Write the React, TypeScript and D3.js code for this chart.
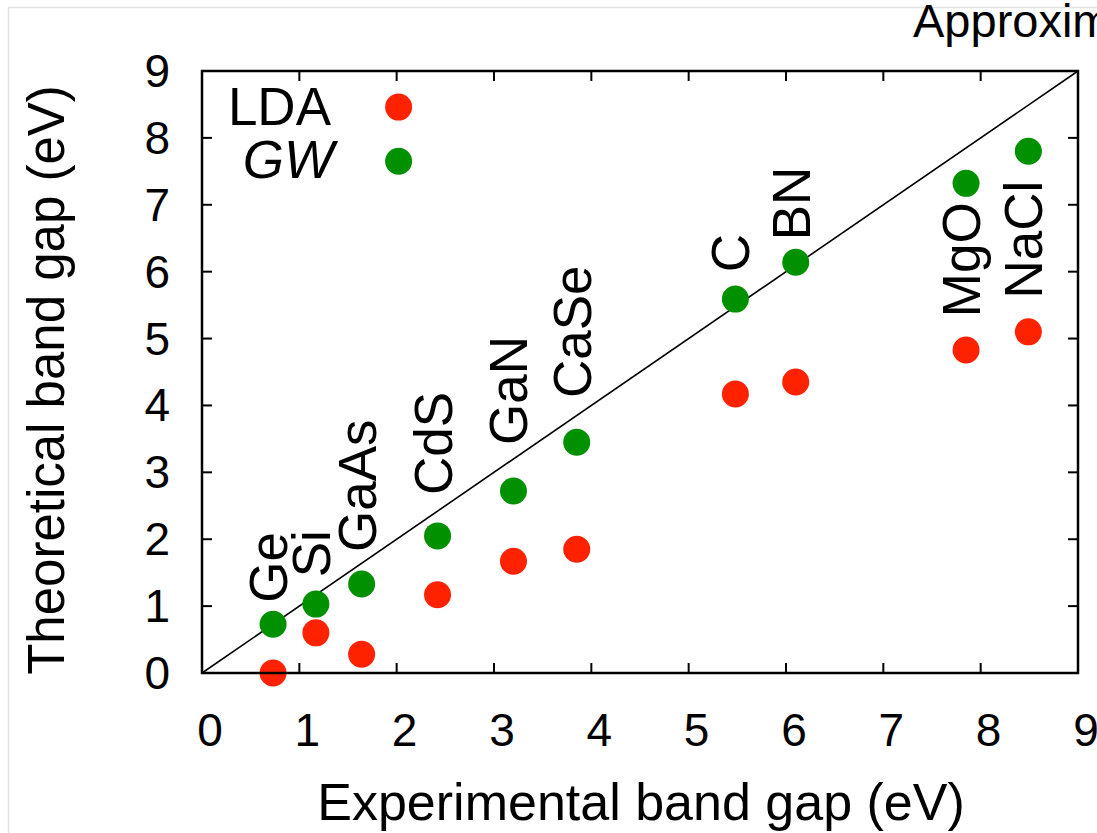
import React from "react";
import * as d3 from "d3";

const materials = ["Ge", "Si", "GaAs", "CdS", "GaN", "CaSe", "C", "BN", "MgO", "NaCl"];
const experimental = [0.73, 1.17, 1.64, 2.42, 3.2, 3.85, 5.48, 6.1, 7.85, 8.49];
const ldaGap = [0.0, 0.6, 0.28, 1.17, 1.67, 1.85, 4.17, 4.35, 4.83, 5.1];
const gwGap = [0.73, 1.03, 1.33, 2.05, 2.72, 3.45, 5.59, 6.14, 7.32, 7.8];
// label anchor (start of rotated text) in data y-units
const labelY = [1.05, 1.43, 1.81, 2.66, 3.41, 4.11, 5.99, 6.47, 5.32, 5.6];
const ticks = [0, 1, 2, 3, 4, 5, 6, 7, 8, 9];

const W = 1097, H = 833;
const font = "'Liberation Sans', Arial, Helvetica, sans-serif";
const RED = "#ff2200";
const GREEN = "#009000";

export default function App() {
  const x = d3.scaleLinear().domain([0, 9]).range([202, 1078]);
  const y = d3.scaleLinear().domain([0, 9]).range([673, 71]);
  const tl = 10;
  return (
    <div style={{ position: "fixed", left: 0, top: 0 }}>
      <svg width={W} height={H} style={{ display: "block", background: "#fff" }}>
        <rect x={8.5} y={7.5} width={W + 20} height={H + 20} fill="none" stroke="#e2e2e2" strokeWidth={1.5} />
        <text x={913} y={37} fontFamily={font} fontSize={47} fill="#000">
          Approximation
        </text>
        {/* ticks */}
        {ticks.map((t) => (
          <g key={"t" + t} stroke="#000" strokeWidth={2}>
            <line x1={x(t)} x2={x(t)} y1={y(0)} y2={y(0) - tl} />
            <line x1={x(t)} x2={x(t)} y1={y(9)} y2={y(9) + tl} />
            <line x1={x(0)} x2={x(0) + tl} y1={y(t)} y2={y(t)} />
            <line x1={x(9)} x2={x(9) - tl} y1={y(t)} y2={y(t)} />
          </g>
        ))}
        {ticks.map((t) => (
          <text key={"xl" + t} x={x(t) + 8} y={746} textAnchor="middle" fontFamily={font} fontSize={46} fill="#000">
            {t}
          </text>
        ))}
        {ticks.map((t) => (
          <text key={"yl" + t} x={170} y={y(t) + 16} textAnchor="end" fontFamily={font} fontSize={46} fill="#000">
            {t}
          </text>
        ))}
        {/* diagonal */}
        <line x1={x(0)} y1={y(0)} x2={x(9)} y2={y(9)} stroke="#000" strokeWidth={1.6} />
        {/* points */}
        {materials.map((m, i) => (
          <g key={m}>
            <circle cx={x(experimental[i])} cy={y(ldaGap[i])} r={13.5} fill={RED} />
            <circle cx={x(experimental[i])} cy={y(gwGap[i])} r={13.5} fill={GREEN} />
          </g>
        ))}
        {/* labels */}
        {materials.map((m, i) => {
          const lx = x(experimental[i]) + 14;
          const ly = y(labelY[i]);
          return (
            <text key={"lab" + m} transform={`translate(${lx},${ly}) rotate(-90)`} fontFamily={font} fontSize={53} fill="#000">
              {m}
            </text>
          );
        })}
        {/* legend */}
        <text x={331} y={125} textAnchor="end" fontFamily={font} fontSize={53} fill="#000">LDA</text>
        <circle cx={x(2.02)} cy={y(8.46)} r={13.5} fill={RED} />
        <text x={334} y={178} textAnchor="end" fontFamily={font} fontSize={53} fontStyle="italic" fill="#000">GW</text>
        <circle cx={x(2.02)} cy={y(7.65)} r={13.5} fill={GREEN} />
        {/* frame */}
        <rect x={x(0)} y={y(9)} width={x(9) - x(0)} height={y(0) - y(9)} fill="none" stroke="#000" strokeWidth={2.5} />
        {/* axis titles */}
        <text x={641} y={820} textAnchor="middle" fontFamily={font} fontSize={52} fill="#000">
          Experimental band gap (eV)
        </text>
        <text transform={`translate(64,380) rotate(-90)`} textAnchor="middle" fontFamily={font} fontSize={51} fill="#000">
          Theoretical band gap (eV)
        </text>
      </svg>
    </div>
  );
}
